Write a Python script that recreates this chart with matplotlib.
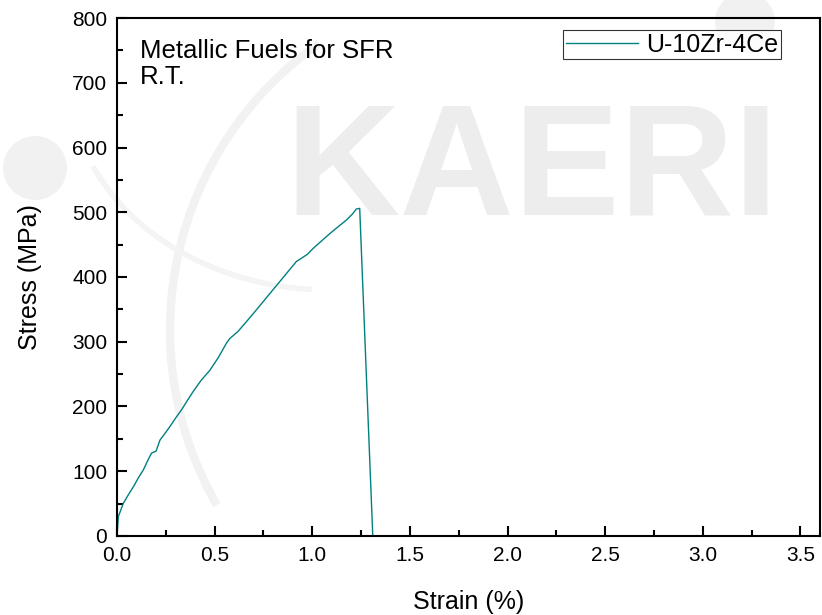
import numpy as np
import matplotlib.pyplot as plt
from matplotlib.patches import Circle, Arc
from matplotlib.ticker import MultipleLocator

plt.rcParams['font.family'] = ['Liberation Sans', 'DejaVu Sans']

# readings (strain %, stress MPa)
strain = [0.0, 0.007, 0.032, 0.055, 0.084, 0.11, 0.135, 0.16, 0.177, 0.2, 0.22,
          0.245, 0.271, 0.3, 0.331, 0.36, 0.39, 0.43, 0.476, 0.52, 0.561, 0.578,
          0.62, 0.663, 0.705, 0.749, 0.79, 0.834, 0.875, 0.919, 0.945, 0.975,
          1.004, 1.045, 1.09, 1.13, 1.175, 1.205, 1.226, 1.243, 1.31]
stress = [0, 30, 50, 62, 76, 90, 102, 118, 128, 131, 148,
          158, 169, 182, 195, 209, 223, 240, 256, 276, 298, 305,
          316, 331, 346, 362, 377, 393, 408, 424, 429, 435,
          444, 455, 467, 477, 488, 497, 505, 506, 0]
label = 'U-10Zr-4Ce'

fig = plt.figure(figsize=(8.22, 6.15), dpi=100)

# faint KAERI watermark behind the plot
fig.text(0.347, 0.652, 'KAERI', fontsize=114, fontweight='bold', color='#ededed',
         ha='left', va='baseline', zorder=0)
wm = fig.add_axes([0, 0, 1, 1], zorder=-1)
wm.set_xlim(0, 822)
wm.set_ylim(615, 0)
wm.axis('off')
wm.add_patch(Circle((35, 168), 32, color='#f1f1f1', lw=0))
wm.add_patch(Circle((745, 22), 30, color='#f1f1f1', lw=0))
wm.add_patch(Arc((520, 330), 700, 700, angle=0, theta1=150, theta2=235,
                 color='#f2f2f2', lw=6))
wm.add_patch(Arc((330, 80), 520, 420, angle=0, theta1=95, theta2=160,
                 color='#f4f4f4', lw=4))

ax = fig.add_axes([0.1423, 0.1285, 0.8552, 0.8422])
ax.patch.set_alpha(0)
ax.plot(strain, stress, color='#008080', lw=1.0, label=label)

ax.set_xlim(0, 3.6)
ax.set_ylim(0, 800)
ax.xaxis.set_major_locator(MultipleLocator(0.5))
ax.xaxis.set_minor_locator(MultipleLocator(0.25))
ax.yaxis.set_major_locator(MultipleLocator(100))
ax.yaxis.set_minor_locator(MultipleLocator(50))
ax.xaxis.set_major_formatter(plt.FormatStrFormatter('%.1f'))
ax.tick_params(which='both', direction='in', top=False, right=False,
               labelsize=15, width=1.5, pad=7)
ax.tick_params(which='major', length=7.5)
ax.tick_params(which='minor', length=4.5)
for s in ax.spines.values():
    s.set_linewidth(1.5)

ax.set_xlabel('Strain (%)', fontsize=18, labelpad=18)
ax.set_ylabel('Stress (MPa)', fontsize=18, labelpad=22)

ax.text(0.033, 0.96, 'Metallic Fuels for SFR\nR.T.', transform=ax.transAxes,
        fontsize=18.5, va='top', ha='left', linespacing=1.1)

leg = ax.legend(loc='upper right', fontsize=18, frameon=True, fancybox=False,
                handlelength=2.9, handletextpad=0.3, borderpad=0.1,
                borderaxespad=0.0, bbox_to_anchor=(0.944, 0.976))
leg.get_frame().set_edgecolor('black')
leg.get_frame().set_linewidth(0.8)

fig.savefig('out.png', dpi=100)
